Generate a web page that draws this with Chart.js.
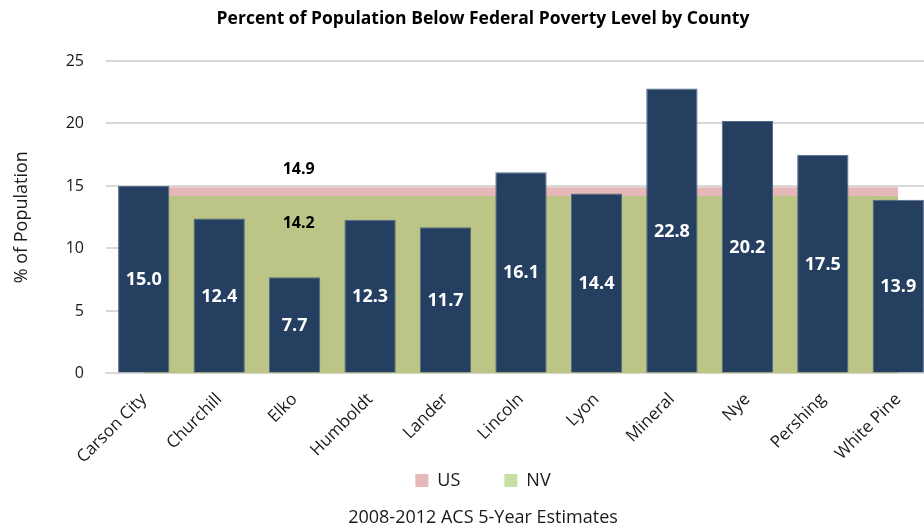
<!DOCTYPE html>
<html>
<head>
<meta charset="utf-8">
<script src="https://cdn.jsdelivr.net/npm/chart.js@4.4.1/dist/chart.umd.min.js"></script>
<style>
  html, body { margin: 0; padding: 0; background: #fff; overflow: hidden; }
  #wrap { position: absolute; left: 0; top: 0; width: 966px; height: 525px; }
</style>
</head>
<body>
<div id="wrap"><canvas id="povertyChart" width="966" height="525"></canvas></div>
<script>
// COUNTY DATA
const counties = ["Carson City", "Churchill", "Elko", "Humboldt", "Lander", "Lincoln",
  "Lyon", "Mineral", "Nye", "Pershing", "White Pine"];
const countyPct = [15.0, 12.4, 7.7, 12.3, 11.7, 16.1, 14.4, 22.8, 20.2, 17.5, 13.9];
const usPct = 14.9;
const nvPct = 14.2;
const yTicks = [0, 5, 10, 15, 20, 25];

const font = "'Open Sans', 'Noto Sans', sans-serif";
const usLine = counties.map(() => usPct);
const nvLine = counties.map(() => nvPct);

// VALUE LABELS
const labelPlugin = {
  id: "valueLabels",
  afterLayout(chart) {
    // let the county names hang down past the x-axis box without being clipped
    chart.scales.x.bottom = chart.height;
  },
  afterDatasetsDraw(chart) {
    const ctx = chart.ctx;
    ctx.save();
    ctx.textAlign = "center";
    ctx.textBaseline = "middle";

    // bar values, white, centred in each bar
    ctx.font = "bold 18px " + font;
    ctx.fillStyle = "#ffffff";
    chart.getDatasetMeta(0).data.forEach((bar, i) => {
      const mid = (bar.y + bar.base) / 2;
      ctx.fillText(countyPct[i].toFixed(1), bar.x, mid + 1);
    });

    // US / NV reference values over Elko
    ctx.font = "bold 16px " + font;
    ctx.fillStyle = "#000000";
    const x = chart.scales.x.getPixelForValue(2);
    const y = chart.scales.y;
    ctx.fillText(usPct.toFixed(1), x + 4, y.getPixelForValue(usPct) - 18);
    ctx.fillText(nvPct.toFixed(1), x + 4, y.getPixelForValue(nvPct) + 27);
    ctx.restore();
  }
};

const ctx = document.getElementById("povertyChart").getContext("2d");

new Chart(ctx, {
  type: "bar",
  data: {
    labels: counties,
    datasets: [
      {
        label: "County",
        data: countyPct,
        backgroundColor: "#243f60",
        borderColor: "#52698a",
        borderWidth: 1,
        barPercentage: 0.68,
        categoryPercentage: 1,
        order: 0
      },
      {
        type: "line",
        label: "US",
        data: usLine,
        backgroundColor: "#e6b8b7",
        borderWidth: 0,
        pointRadius: 0,
        fill: 2,
        order: 1
      },
      {
        type: "line",
        label: "NV",
        data: nvLine,
        backgroundColor: "#bcc586",
        borderWidth: 0,
        pointRadius: 0,
        fill: "origin",
        order: 2
      }
    ]
  },
  options: {
    responsive: false,
    animation: false,
    layout: { padding: { left: 0, right: 0, bottom: -4 } },
    scales: {
      x: {
        afterFit(scale) { scale.height = scale.height - 12; },
        grid: { display: false },
        border: { color: "#d9d9d9", width: 2 },
        ticks: {
          color: "#1a1a1a",
          font: { family: font, size: 17 },
          minRotation: 45,
          maxRotation: 45,
          padding: 8
        }
      },
      y: {
        min: 0,
        max: 25,
        afterFit(scale) { scale.width = 106; },
        afterBuildTicks(scale) { scale.ticks = yTicks.map(v => ({ value: v })); },
        grid: { color: "#d9d9d9", lineWidth: 2, drawTicks: false },
        border: { display: false },
        ticks: {
          color: "#1a1a1a",
          font: { family: font, size: 16 },
          padding: 22
        },
        title: {
          display: true,
          text: "% of Population",
          color: "#1a1a1a",
          font: { family: font, size: 18 },
          padding: { top: 11, bottom: 0 }
        }
      },
      // empty right-hand margin axis
      yRight: {
        position: "right",
        afterFit(scale) { scale.width = 30; },
        grid: { display: false },
        border: { display: false },
        ticks: { display: false }
      }
    },
    plugins: {
      tooltip: { enabled: false },
      title: {
        display: true,
        text: "Percent of Population Below Federal Poverty Level by County",
        color: "#000000",
        font: { family: font, size: 17.5, weight: "bold" },
        padding: { top: 9, bottom: 31 }
      },
      subtitle: {
        display: true,
        position: "bottom",
        text: "2008-2012 ACS 5-Year Estimates",
        color: "#1a1a1a",
        font: { family: font, size: 18, weight: "normal" },
        padding: { top: 8, bottom: 0 }
      },
      legend: {
        position: "bottom",
        labels: {
          color: "#1a1a1a",
          font: { family: font, size: 18 },
          boxWidth: 13,
          boxHeight: 13,
          padding: 8,
          filter: item => item.datasetIndex > 0,
          generateLabels(chart) {
            const fills = ["#e6b8b7", "#c4e0a2"];
            // the em spaces open the gap between the two legend entries
            return ["US\u2003\u2003", "NV"].map((t, i) => ({
              text: t,
              fillStyle: fills[i],
              strokeStyle: fills[i],
              lineWidth: 0,
              datasetIndex: i + 1,
              fontColor: "#1a1a1a"
            }));
          }
        }
      }
    }
  },
  plugins: [labelPlugin]
});
</script>
</body>
</html>
